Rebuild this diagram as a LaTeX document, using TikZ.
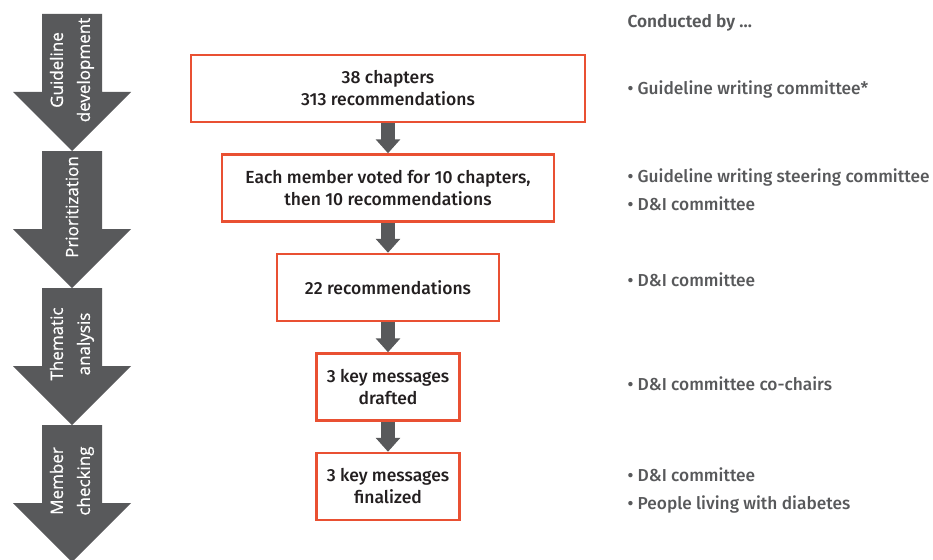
\documentclass[tikz,border=0pt]{standalone}
\usepackage{fontspec}
\setmainfont{Fira Sans}[UprightFont=* Medium, BoldFont=* SemiBold]
\newfontfamily\phasefont{Open Sans}[FakeBold=0.6]
\usetikzlibrary{arrows.meta, positioning}
\definecolor{phaseGray}{RGB}{88,89,91}
\definecolor{boxRed}{RGB}{233,80,50}
\definecolor{boxText}{RGB}{35,31,32}
\tikzset{
    stepbox/.style={
        rectangle,
        draw=boxRed,
        line width=2.5pt,
        align=center,
        fill=white,
        minimum height=67pt,
        text=boxText,
        font=\fontsize{17.5}{22}\selectfont
    },
    phaselabel/.style={
        rotate=90,
        align=center,
        text=white,
        font=\phasefont\fontsize{17}{27}\selectfont
    },
    bylabel/.style={
        anchor=west,
        align=left,
        text=phaseGray,
        font=\fontsize{17.3}{28}\selectfont
    },
    flowarrow/.style={-{Triangle[width=24pt,length=14pt]}, line width=14pt, draw=phaseGray}
}

\begin{document}
\begin{tikzpicture}[x=1pt, y=-1pt, node distance=30pt]
    \useasboundingbox (0,0) rectangle (933,559);
    % phase arrows on the left
    \foreach \ytop/\name/\txt in {14/dev/{Guideline\\development}, 151/prio/{Prioritization}, 288/them/{Thematic\\analysis}, 425/memb/{Member\\checking}} {
        \fill[phaseGray] (42,\ytop) -- ++(60,0) -- ++(0,78) -- ++(29,0) -- ++(-59,59) -- ++(-59,-59) -- ++(29,0) -- cycle;
        \node[phaselabel] (\name) at (72,\ytop+56) {\txt};
    }
    % steps
    \node[stepbox, minimum width=394pt] (chap) at (388,88.5) {38 chapters\\313 recommendations};
    \node[stepbox, below=of chap, minimum width=332pt] (voted) {Each member voted for 10 chapters,\\then 10 recommendations};
    \node[stepbox, below=of voted, minimum width=222pt] (recs) {22 recommendations};
    \node[stepbox, below=of recs, minimum width=143pt] (draft) {3 key messages\\drafted};
    \node[stepbox, below=of draft, minimum width=143pt] (final) {3 key messages\\finalized};
    \draw[flowarrow] (chap) -- (voted);
    \draw[flowarrow] (voted) -- (recs);
    \draw[flowarrow] (recs) -- (draft);
    \draw[flowarrow] (draft) -- (final);
    % conducted by
    \node[bylabel] (head) at (624,23) {\textbf{Conducted by \dots}};
    \node[bylabel] (by1) at (624,89) {\textbullet\ Guideline writing committee*};
    \node[bylabel] (by2) at (624,190) {\textbullet\ Guideline writing steering committee\\\textbullet\ D\&I committee};
    \node[bylabel] (by3) at (624,280) {\textbullet\ D\&I committee};
    \node[bylabel] (by4) at (624,384) {\textbullet\ D\&I committee co-chairs};
    \node[bylabel] (by5) at (624,490) {\textbullet\ D\&I committee\\\textbullet\ People living with diabetes};
\end{tikzpicture}
\end{document}
